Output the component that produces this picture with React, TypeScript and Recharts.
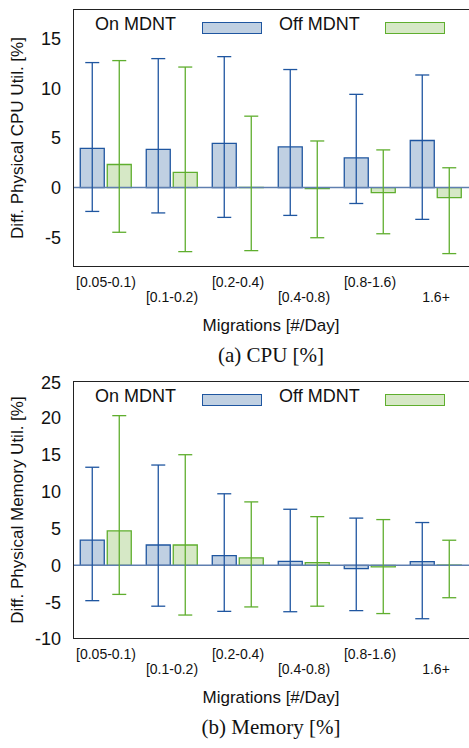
import { BarChart, Bar, XAxis, YAxis, ErrorBar, ReferenceLine } from "recharts";

const categories = ["[0.05-0.1)", "[0.1-0.2)", "[0.2-0.4)", "[0.4-0.8)", "[0.8-1.6)", "1.6+"];

const cpuOn = [3.95, 3.85, 4.45, 4.1, 3.0, 4.75];
const cpuOnHigh = [12.6, 13.0, 13.2, 11.9, 9.4, 11.35];
const cpuOnLow = [-2.4, -2.55, -3.0, -2.8, -1.6, -3.2];
const cpuOff = [2.33, 1.53, 0.03, -0.1, -0.5, -1.0];
const cpuOffHigh = [12.8, 12.15, 7.2, 4.7, 3.8, 2.0];
const cpuOffLow = [-4.5, -6.45, -6.35, -5.05, -4.65, -6.65];

const memOn = [3.42, 2.75, 1.3, 0.54, -0.45, 0.5];
const memOnHigh = [13.3, 13.6, 9.7, 7.6, 6.4, 5.8];
const memOnLow = [-4.8, -5.55, -6.25, -6.3, -6.15, -7.25];
const memOff = [4.68, 2.75, 1.0, 0.36, -0.22, 0.03];
const memOffHigh = [20.3, 15.0, 8.6, 6.6, 6.2, 3.4];
const memOffLow = [-3.95, -6.75, -5.65, -5.55, -6.55, -4.4];

const cpuTicks = [-5, 0, 5, 10, 15];
const memTicks = [-10, -5, 0, 5, 10, 15, 20, 25];

const BLUE = "#1f56a0";
const BLUE_FILL = "#c0d0e2";
const GREEN = "#5fae2e";
const GREEN_FILL = "#d6e8c6";
const SANS = "'Liberation Sans', Arial, sans-serif";
const SERIF = "'Liberation Serif', 'Times New Roman', serif";

function build(on: number[], onH: number[], onL: number[], off: number[], offH: number[], offL: number[]) {
  return categories.map((c, i) => ({
    cat: c,
    on: on[i],
    onErr: [on[i] - onL[i], onH[i] - on[i]],
    off: off[i],
    offErr: [off[i] - offL[i], offH[i] - off[i]],
  }));
}

const XTick = (props: any) => {
  const { x, y, payload, index } = props;
  return (
    <text x={x} y={y + (index % 2 === 0 ? 12 : 27)} textAnchor="middle" fontSize={14} fontFamily={SANS} fill="#111">
      {payload.value}
    </text>
  );
};

function Panel(props: {
  top: number;
  data: any[];
  domain: [number, number];
  ticks: number[];
  ylabel: string;
  caption: string;
}) {
  const { top, data, domain, ticks, ylabel, caption } = props;
  const plotTop = 9;
  const plotH = 258;
  return (
    <div style={{ position: "absolute", left: 0, top, width: 469, height: 370 }}>
      <BarChart
        width={469}
        height={310}
        data={data}
        margin={{ top: plotTop, right: 0, left: 13, bottom: 310 - plotTop - plotH - 60 }}
        barCategoryGap="11%"
        barGap={3}
      >
        <XAxis dataKey="cat" tick={<XTick />} tickLine={false} axisLine={false} interval={0} height={60} />
        <YAxis
          domain={domain}
          ticks={ticks}
          width={60}
          tickLine={false}
          axisLine={false}
          tick={{ fontSize: 18, fontFamily: SANS, fill: "#111" }}
          tickMargin={6}
          allowDataOverflow
        />
        <ReferenceLine y={0} stroke="#5f7fb0" strokeWidth={1.5} />
        <Bar dataKey="on" fill={BLUE_FILL} stroke={BLUE} strokeWidth={1.3} isAnimationActive={false}>
          <ErrorBar dataKey="onErr" stroke={BLUE} strokeWidth={1.3} width={7} />
        </Bar>
        <Bar dataKey="off" fill={GREEN_FILL} stroke={GREEN} strokeWidth={1.3} isAnimationActive={false}>
          <ErrorBar dataKey="offErr" stroke={GREEN} strokeWidth={1.3} width={7} />
        </Bar>
      </BarChart>
      <div style={{ position: "absolute", left: 73, top: plotTop, width: 400, height: plotH, border: "1.5px solid #222", boxSizing: "border-box" }} />
      <div style={{ position: "absolute", left: 95, top: plotTop + 5, fontFamily: SANS, fontSize: 18, color: "#111" }}>On MDNT</div>
      <div style={{ position: "absolute", left: 202, top: plotTop + 13, width: 58, height: 10, background: BLUE_FILL, border: `1.3px solid ${BLUE}` }} />
      <div style={{ position: "absolute", left: 279, top: plotTop + 5, fontFamily: SANS, fontSize: 18, color: "#111" }}>Off MDNT</div>
      <div style={{ position: "absolute", left: 385, top: plotTop + 13, width: 58, height: 10, background: GREEN_FILL, border: `1.3px solid ${GREEN}` }} />
      <div style={{ position: "absolute", left: 18, top: plotTop + plotH / 2, transform: "translate(-50%, -50%) rotate(-90deg)", whiteSpace: "nowrap", fontFamily: SANS, fontSize: 17, color: "#111" }}>{ylabel}</div>
      <div style={{ position: "absolute", left: 73, width: 396, top: 316, textAlign: "center", fontFamily: SANS, fontSize: 17, color: "#111" }}>Migrations [#/Day]</div>
      <div style={{ position: "absolute", left: 73, width: 396, top: 343, textAlign: "center", fontFamily: SERIF, fontSize: 21, color: "#111" }}>{caption}</div>
    </div>
  );
}

export default function App() {
  const cpu = build(cpuOn, cpuOnHigh, cpuOnLow, cpuOff, cpuOffHigh, cpuOffLow);
  const mem = build(memOn, memOnHigh, memOnLow, memOff, memOffHigh, memOffLow);
  return (
    <div style={{ position: "absolute", left: 0, top: 0, width: 469, height: 748, background: "#fff", overflow: "hidden" }}>
      <Panel top={0} data={cpu} domain={[-8, 18]} ticks={cpuTicks} ylabel="Diff. Physical CPU Util. [%]" caption="(a)  CPU [%]" />
      <Panel top={372} data={mem} domain={[-10, 25]} ticks={memTicks} ylabel="Diff. Physical Memory Util. [%]" caption="(b)  Memory [%]" />
    </div>
  );
}
